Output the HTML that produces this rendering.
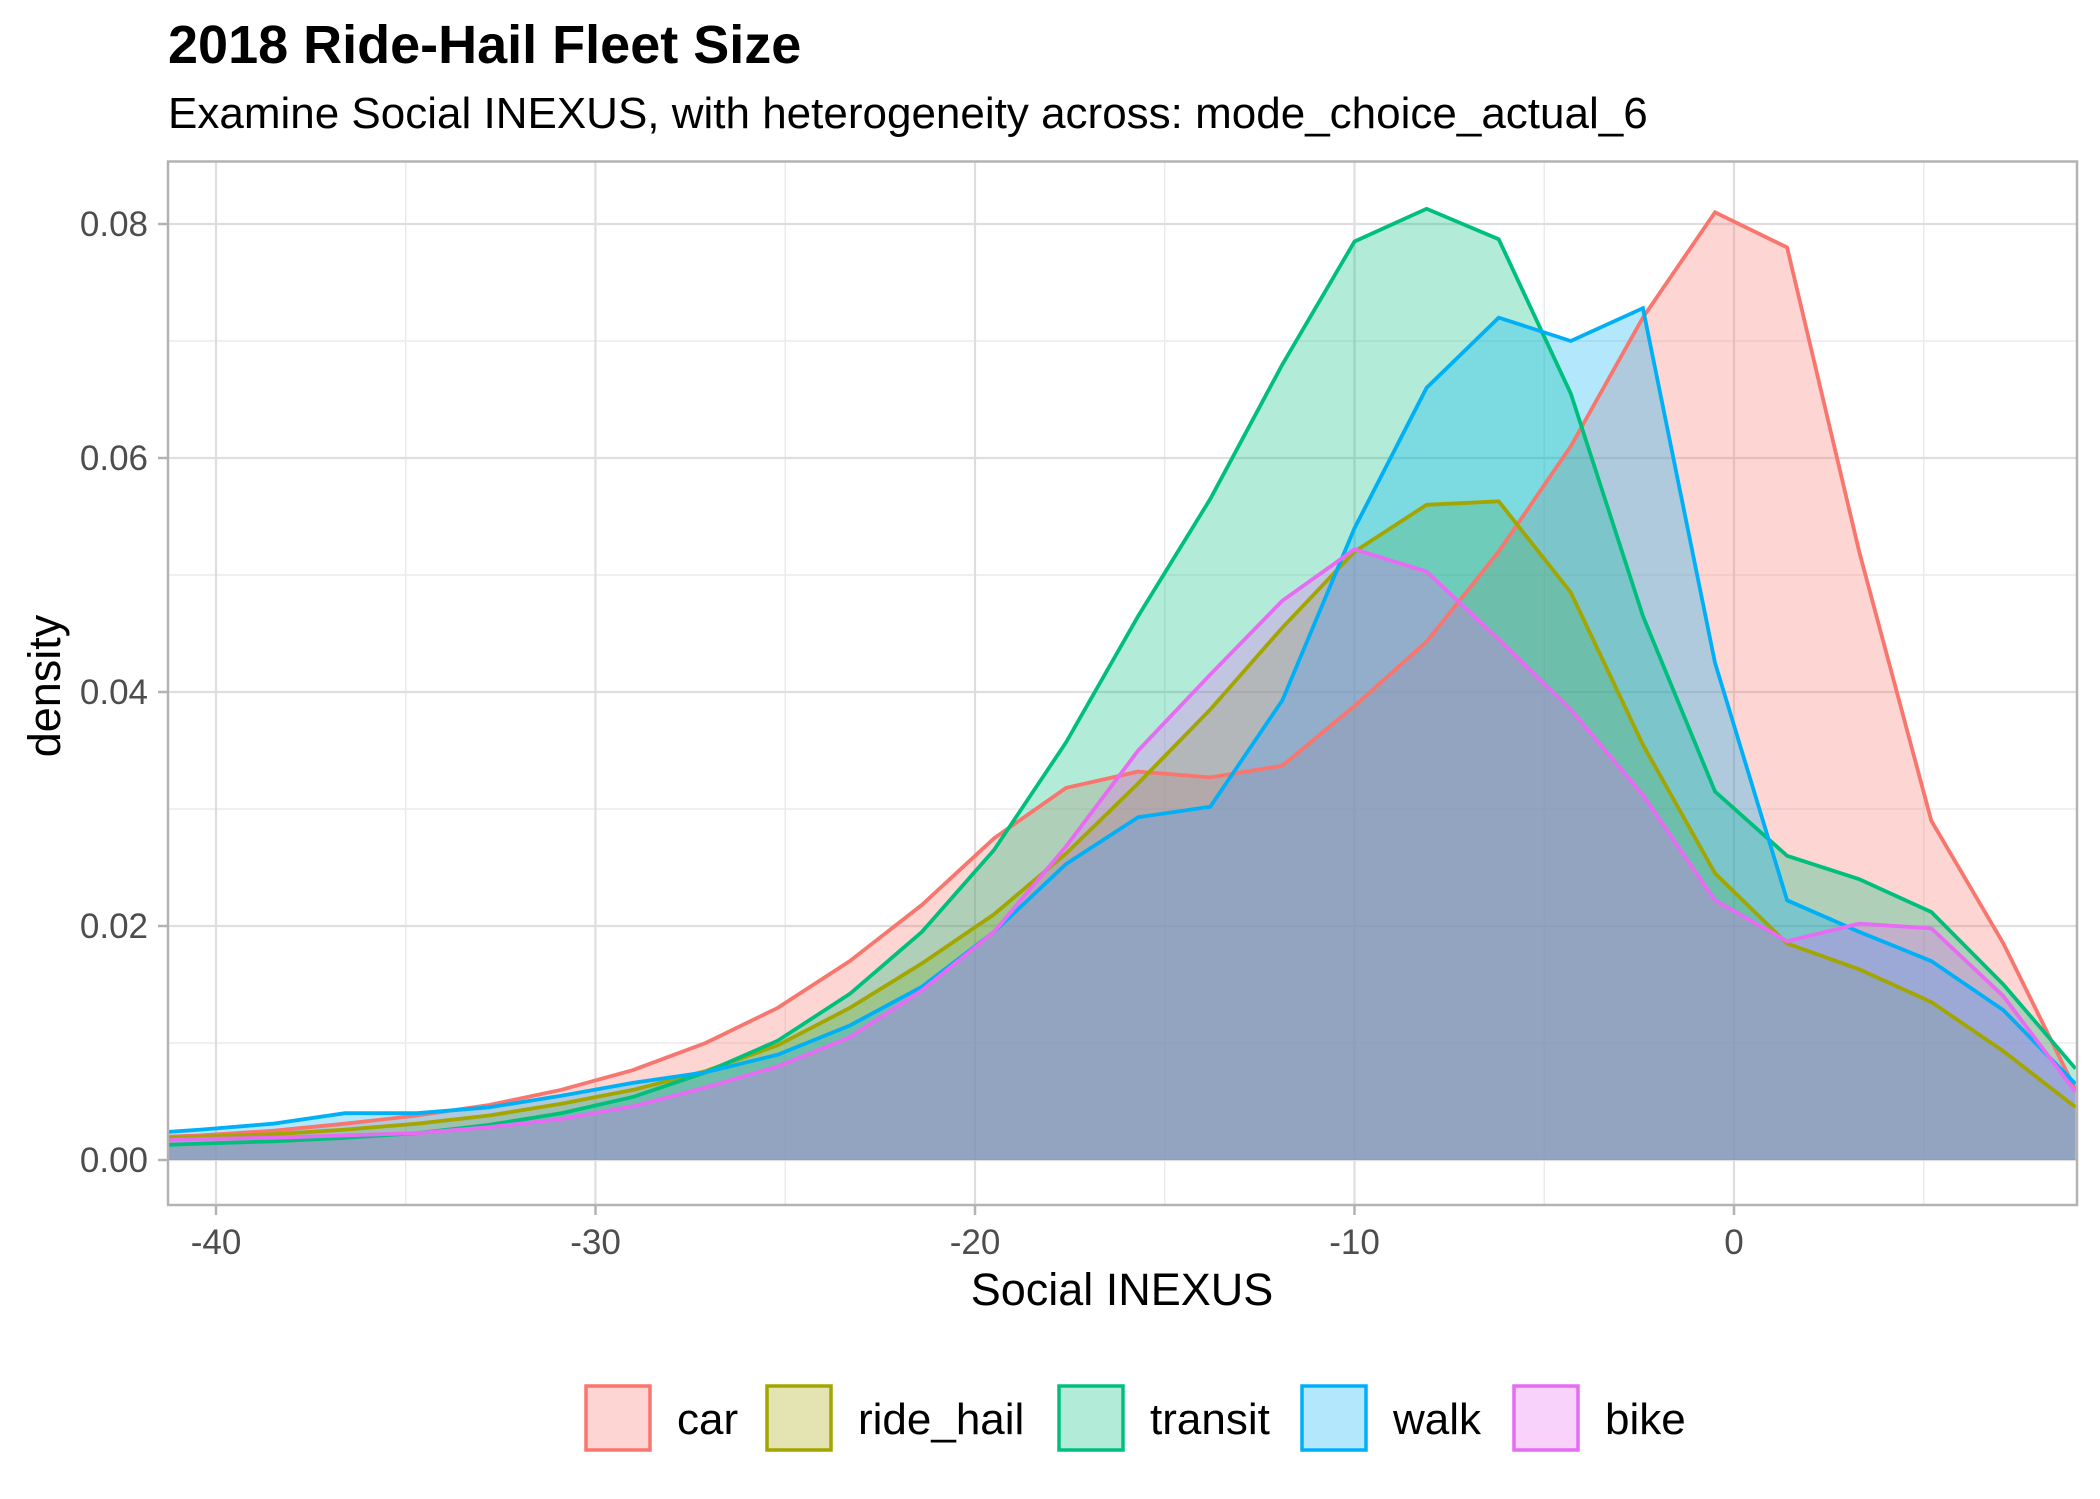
<!DOCTYPE html>
<html><head><meta charset="utf-8"><style>
html,body{margin:0;padding:0;background:#fff;}
svg{display:block;font-family:"Liberation Sans",Arial,sans-serif;}
</style></head><body>
<svg id="chart" width="2100" height="1499" viewBox="0 0 2100 1499">
<text x="168" y="63" font-size="54" font-weight="bold" fill="#000">2018 Ride-Hail Fleet Size</text>
<text x="168" y="128" font-size="44" fill="#000">Examine Social INEXUS, with heterogeneity across: mode_choice_actual_6</text>
<g id="grid"></g>
<g id="series"></g>
<rect x="168" y="161.5" width="1909" height="1043.5" fill="none" stroke="#B3B3B3" stroke-width="2.5"/>
<g id="axes"></g>
<text x="1122" y="1305" font-size="45" text-anchor="middle" fill="#000">Social INEXUS</text>
<text transform="translate(60,686) rotate(-90)" font-size="45" text-anchor="middle" fill="#000">density</text>
<g id="legend"></g>
</svg>
<script>
const xs = [-41.3,-40.4,-38.5,-36.6,-34.7,-32.8,-30.9,-29.0,-27.1,-25.2,-23.3,-21.4,-19.5,-17.6,-15.7,-13.8,-11.9,-10.0,-8.1,-6.2,-4.3,-2.4,-0.5,1.4,3.3,5.2,7.1,9.0];
const carVals = [.0020,.0021,.0025,.0031,.0038,.0047,.0060,.0077,.0100,.0130,.0170,.0218,.0275,.0318,.0332,.0327,.0337,.0388,.0443,.0520,.0610,.0720,.0810,.0780,.0520,.0290,.0185,.0060];
const rideHailVals = [.0019,.0020,.0022,.0026,.0031,.0038,.0048,.0060,.0076,.0098,.0130,.0168,.0210,.0262,.0322,.0385,.0455,.0520,.0560,.0563,.0485,.0355,.0245,.0185,.0163,.0135,.0093,.0045];
const transitVals = [.0013,.0014,.0016,.0019,.0023,.0030,.0040,.0054,.0075,.0102,.0142,.0195,.0265,.0357,.0465,.0565,.0680,.0785,.0813,.0787,.0655,.0465,.0315,.0260,.0240,.0212,.0150,.0078];
const walkVals = [.0024,.0026,.0031,.0040,.0040,.0045,.0055,.0066,.0075,.0090,.0115,.0148,.0195,.0253,.0293,.0302,.0393,.0540,.0660,.0720,.0700,.0728,.0425,.0222,.0195,.0170,.0128,.0065];
const bikeVals = [.0017,.0018,.0019,.0021,.0023,.0028,.0035,.0046,.0062,.0080,.0105,.0145,.0195,.0268,.0350,.0415,.0478,.0522,.0503,.0445,.0385,.0312,.0222,.0187,.0202,.0198,.0140,.0058];
const seriesNames = ["car","ride_hail","transit","walk","bike"];
const seriesColors = ["#F8766D","#A3A500","#00BF7D","#00B0F6","#E76BF3"];
const xTicks = [-40,-30,-20,-10,0];
const xTickLabels = ["-40","-30","-20","-10","0"];
const yTicks = [0,0.02,0.04,0.06,0.08];
const yTickLabels = ["0.00","0.02","0.04","0.06","0.08"];

const NS="http://www.w3.org/2000/svg";
const PL=168, PR=2077, PT=161.5, PB=1205;
const X0=-41.3;
function sx(v){return 216 + (v+40)*37.95;}
function sy(v){return 1160 - v*11700;}
function mk(t,a,p){const e=document.createElementNS(NS,t);for(const k in a)e.setAttribute(k,a[k]);p.appendChild(e);return e;}

const grid=document.getElementById('grid');
for(let v=-35;v<=5;v+=10){const l=mk('line',{x1:sx(v),x2:sx(v),y1:PT,y2:PB,stroke:'#EBEBEB','stroke-width':1.5},grid);

}
for(let v=0.01;v<0.09;v+=0.02){const l=mk('line',{x1:PL,x2:PR,y1:sy(v),y2:sy(v),stroke:'#EBEBEB','stroke-width':1.5},grid);

}
xTicks.forEach(v=>{const l=mk('line',{x1:sx(v),x2:sx(v),y1:PT,y2:PB,stroke:'#DEDEDE','stroke-width':2.2},grid);

});
yTicks.forEach(v=>{const l=mk('line',{x1:PL,x2:PR,y1:sy(v),y2:sy(v),stroke:'#DEDEDE','stroke-width':2.2},grid);

});

const allVals=[carVals,rideHailVals,transitVals,walkVals,bikeVals];
const sg=document.getElementById('series');
function cx(x){return Math.min(PR,Math.max(PL,sx(x)));}
allVals.forEach((vals,i)=>{
  let pts=xs.map((x,j)=>cx(x).toFixed(1)+','+sy(vals[j]).toFixed(1));
  const area='M'+cx(xs[0]).toFixed(1)+','+sy(0)+' L'+pts.join(' L')+' L'+cx(xs[xs.length-1]).toFixed(1)+','+sy(0)+' Z';
  const a=mk('path',{d:area,fill:seriesColors[i],'fill-opacity':0.3,stroke:'none'},sg);
  
  
});
allVals.forEach((vals,i)=>{
  let pts=xs.map((x,j)=>cx(x).toFixed(1)+','+sy(vals[j]).toFixed(1));
  const l=mk('polyline',{points:pts.join(' '),fill:'none',stroke:seriesColors[i],'stroke-width':3.8,'stroke-linejoin':'miter'},sg);
  
  
});

const ax=document.getElementById('axes');
xTicks.forEach((v,i)=>{
  const t=mk('line',{x1:sx(v),x2:sx(v),y1:PB,y2:PB+10,stroke:'#B3B3B3','stroke-width':2.5},ax);
  
  
  const tx=mk('text',{x:sx(v),y:1254,'font-size':35,'text-anchor':'middle',fill:'#4D4D4D'},ax);
  tx.textContent=xTickLabels[i];
  
  
});
yTicks.forEach((v,i)=>{
  const t=mk('line',{x1:PL-10,x2:PL,y1:sy(v),y2:sy(v),stroke:'#B3B3B3','stroke-width':2.5},ax);
  
  
  const tx=mk('text',{x:148,y:sy(v)+12,'font-size':35,'text-anchor':'end',fill:'#4D4D4D'},ax);
  tx.textContent=yTickLabels[i];
  
  
});

const lg=document.getElementById('legend');
const boxX=[584,765,1057,1300,1512];
seriesNames.forEach((n,i)=>{
  const g=mk('g',{},lg);
  
  
  const r=mk('rect',{x:boxX[i]+2,y:1386,width:64,height:64,fill:seriesColors[i],'fill-opacity':0.3,stroke:seriesColors[i],'stroke-width':3.5},g);
  
  
  const t=mk('text',{x:boxX[i]+93,y:1434,'font-size':44,fill:'#000'},g);
  t.textContent=n;
  
  
});
</script>
</body></html>
